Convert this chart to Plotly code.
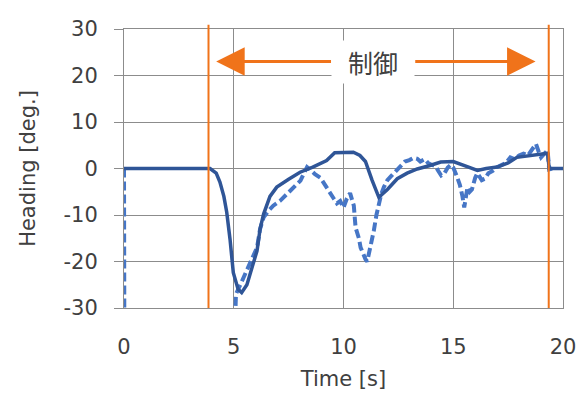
import plotly.graph_objects as go

# ---- data ----
t_ref = [0, 3.92, 4.2, 4.37, 4.55, 4.68, 4.83, 4.98, 5.2, 5.36, 5.6, 5.85, 6.06, 6.2, 6.36,
         6.65, 6.96, 7.5, 8.02, 8.6, 9.23, 9.6, 10.45, 10.75, 11.0, 11.3, 11.61, 12.0,
         12.45, 12.9, 13.36, 13.9, 14.43, 15.0, 15.34, 15.7, 16.1, 16.5, 17.0, 17.5,
         17.9, 18.5, 19.1, 19.3, 19.37, 20.0]
heading_ref = [0, 0, -1, -2.9, -6, -9.4, -15.2, -22.4, -26, -26.7, -25, -21, -17.7, -13, -9.8,
               -6, -4, -2.3, -0.8, 0.3, 1.7, 3.4, 3.5, 2.8, 1.5, -2.5, -6.2, -4.5,
               -2.2, -1, -0.1, 0.6, 1.4, 1.5, 1, 0.3, -0.4, 0, 0.3, 1.2,
               2.4, 2.8, 3.2, 3.3, 0, 0]

t_meas = [0, 0.02, 4.98, 5.1, 5.3, 5.6, 5.85, 6.06, 6.2, 6.36, 6.6, 6.8, 7.1, 7.4, 7.7,
          8.04, 8.2, 8.34, 8.5, 8.7, 8.95, 9.2, 9.4, 9.56, 9.7, 9.85, 10.0, 10.15, 10.3,
          10.4, 10.47, 10.55, 10.7, 10.78, 10.9, 11.0, 11.08, 11.15, 11.23, 11.3, 11.38,
          11.5, 11.61, 11.72, 11.84, 12.0, 12.2, 12.4, 12.6, 12.8, 13.0, 13.2, 13.36,
          13.5, 13.7, 13.85, 14.0, 14.2, 14.3, 14.45, 14.6, 14.75, 14.9, 15.0, 15.15,
          15.3, 15.42, 15.5, 15.58, 15.65, 15.75, 15.85, 16.0, 16.1, 16.3, 16.45, 16.6,
          16.8, 17.0, 17.2, 17.4, 17.6, 17.8, 18.0, 18.2, 18.4, 18.6, 18.77, 18.9,
          19.0, 19.15, 19.3, 19.37, 19.5]
heading_meas = [0, -45, -45, -27, -25, -22, -19, -17, -13, -10.5, -9, -8, -7, -5.5, -4,
                -2.6, -1, 0.3, -0.3, -1.2, -2, -4, -5.5, -6.5, -7.5, -7, -8.4, -6.5, -5.3,
                -7, -8, -12.7, -15, -17, -18.5, -19.5, -20, -18.5, -17.5, -15, -13.4,
                -10, -7.6, -5.5, -4, -2.5, -1.5, -0.5, 0.5, 1.5, 1.8, 2.3, 2.1,
                1.5, 2, 1.2, 0.8, 0.5, -0.4, -1.5, -1, 0.2, 0.8, 0.2, -1.5,
                -3.5, -6, -8.4, -6, -4, -5, -4.5, -2, -1, -2.5, -2.2, -1,
                -0.5, 0.3, 0.8, 1.2, 2.4, 2.0, 2.8, 3.2, 2.8, 4.0, 5.3, 3.5,
                2.4, 3.2, 3.9, -0.2, 0]

control_start, control_end = 3.85, 19.35
arrow_level = 23
label_text = "制御"
x_ticks = [0, 5, 10, 15, 20]
y_ticks = [-30, -20, -10, 0, 10, 20, 30]
y_tick_text = ["-30", "-20", "-10", "0", "10", "20", "30"]

ORANGE = "#F0731A"
FONT = "'DejaVu Sans', sans-serif"
CJK = "'Noto Sans CJK JP', sans-serif"
TXT = "#404040"
GRID = "#8c8c8c"

fig = go.Figure()
fig.add_trace(go.Scatter(x=t_meas, y=heading_meas, mode="lines",
                         line=dict(color="#4676C6", width=4, dash="9px,4px"),
                         showlegend=False))
fig.add_trace(go.Scatter(x=t_ref, y=heading_ref, mode="lines",
                         line=dict(color="#2F5597", width=3.5),
                         showlegend=False))

for xv in (control_start, control_end):
    fig.add_shape(type="line", xref="x", yref="paper", x0=xv, x1=xv, y0=0, y1=1.015,
                  line=dict(color=ORANGE, width=2), layer="above")

# arrows
fig.add_annotation(x=4.2, y=arrow_level, ax=9.5, ay=arrow_level, xref="x", yref="y",
                   axref="x", ayref="y", text="", showarrow=True, arrowhead=2,
                   arrowsize=1.9, arrowwidth=3, arrowcolor=ORANGE)
fig.add_annotation(x=18.75, y=arrow_level, ax=13.2, ay=arrow_level, xref="x", yref="y",
                   axref="x", ayref="y", text="", showarrow=True, arrowhead=2,
                   arrowsize=1.9, arrowwidth=3, arrowcolor=ORANGE)
fig.add_annotation(x=(9.5 + 13.2) / 2, y=arrow_level, xref="x", yref="y", text=label_text,
                   showarrow=False, font=dict(family=CJK, size=25, color=TXT),
                   bgcolor="white", borderpad=2, width=78, height=38)

fig.update_layout(
    width=581, height=394,
    margin=dict(l=124, r=18, t=29, b=86),
    paper_bgcolor="white", plot_bgcolor="white",
    font=dict(family=FONT, size=21, color=TXT),
    xaxis=dict(range=[0, 20], tickvals=x_ticks, showgrid=True, gridcolor=GRID, gridwidth=1,
               zeroline=False, showline=True, linecolor=GRID, mirror=True, ticks="",
               ticklabelstandoff=20, automargin=False,
               title=dict(text="Time [s]", font=dict(size=21, color=TXT), standoff=13)),
    yaxis=dict(range=[-30, 30], tickvals=y_ticks, ticktext=y_tick_text, showgrid=True,
               gridcolor=GRID, gridwidth=1,
               zeroline=False, showline=True, linecolor=GRID, mirror=True, ticks="outside",
               ticklen=9, tickcolor=GRID, ticklabelstandoff=12, automargin=False,
               title=dict(text="Heading [deg.]", font=dict(size=21, color=TXT), standoff=22)),
)

fig.write_html("out.html", config={"displayModeBar": False},
               post_script="document.body.style.margin='0px';")
